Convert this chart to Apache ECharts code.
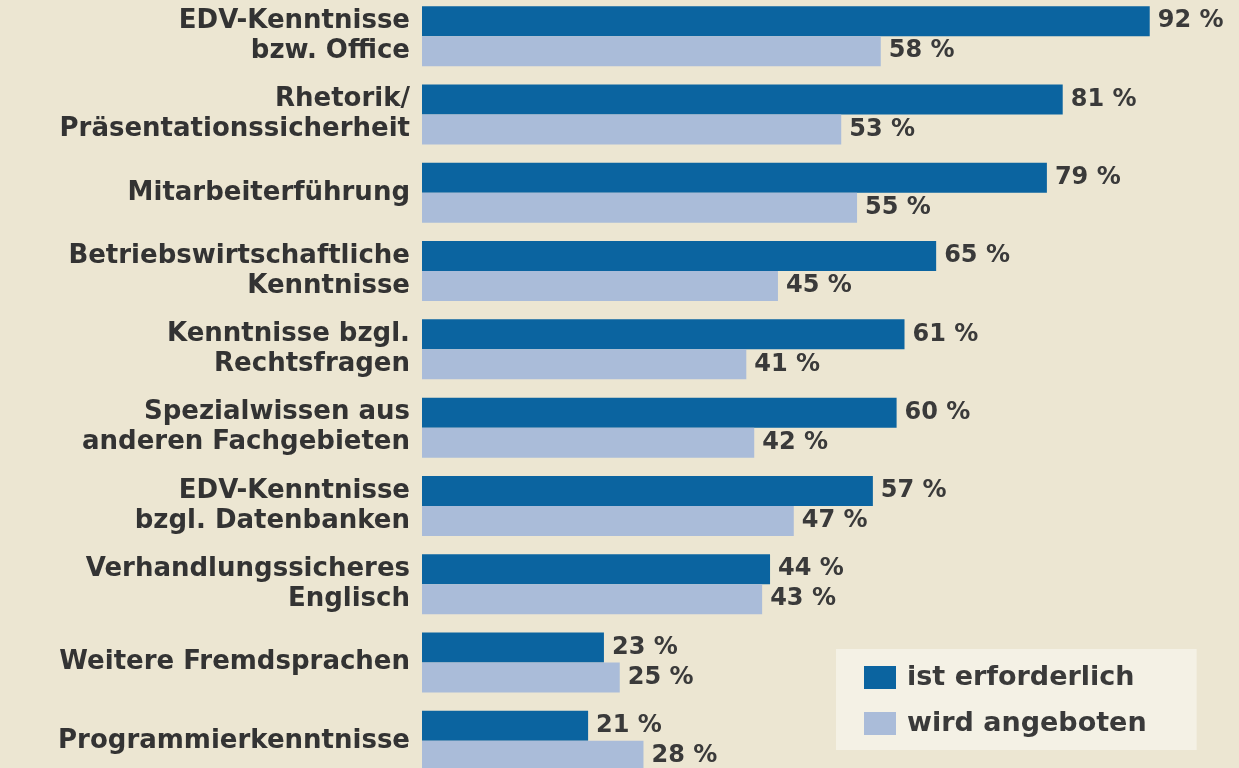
<!DOCTYPE html>
<html>
<head>
<meta charset="utf-8">
<script src="https://cdn.jsdelivr.net/npm/echarts@6/dist/echarts.min.js"></script>
<style>
  html, body { margin: 0; padding: 0; background: #ece6d2; }
  #chart { width: 1239px; height: 768px; }
</style>
</head>
<body>
<div id="chart"></div>
<script>
const categories = [
  "EDV-Kenntnisse\nbzw. Office",
  "Rhetorik/\nPräsentationssicherheit",
  "Mitarbeiterführung",
  "Betriebswirtschaftliche\nKenntnisse",
  "Kenntnisse bzgl.\nRechtsfragen",
  "Spezialwissen aus\nanderen Fachgebieten",
  "EDV-Kenntnisse\nbzgl. Datenbanken",
  "Verhandlungssicheres\nEnglisch",
  "Weitere Fremdsprachen",
  "Programmierkenntnisse"
];
const erforderlich = [92, 81, 79, 65, 61, 60, 57, 44, 23, 21];
const angeboten = [58, 53, 55, 45, 41, 42, 47, 43, 25, 28];

const chart = echarts.init(document.getElementById("chart"));
const font = "'DejaVu Sans', Verdana, sans-serif";
const valueLabel = {
  show: true,
  position: "right",
  distance: 8,
  formatter: "{c} %",
  color: "#3a3a3a",
  fontFamily: font,
  fontWeight: "bold",
  fontSize: 24
};

const option = {
  backgroundColor: "#ece6d2",
  animation: false,
  grid: { left: 422, right: 26, top: -3, bottom: -12, outerBoundsMode: "none", containLabel: false },
  legend: {
    orient: "vertical",
    left: 836,
    top: 649,
    padding: [15, 50, 13, 28],
    backgroundColor: "#f4f1e5",
    itemWidth: 32,
    itemHeight: 23,
    itemGap: 19,
    icon: "rect",
    textStyle: { fontFamily: font, fontWeight: "bold", fontSize: 27, color: "#3a3a3a", padding: [0, 0, 0, 6] },
    data: ["ist erforderlich", "wird angeboten"]
  },
  xAxis: {
    type: "value",
    min: 0,
    max: 100,
    show: false
  },
  yAxis: {
    type: "category",
    inverse: true,
    data: categories,
    axisLine: { show: false },
    axisTick: { show: false },
    splitLine: { show: false },
    axisLabel: {
      margin: 12,
      align: "right",
      color: "#333333",
      fontFamily: font,
      fontWeight: "bold",
      fontSize: 26,
      lineHeight: 30
    }
  },
  series: [
    {
      name: "ist erforderlich",
      type: "bar",
      data: erforderlich,
      barWidth: 30,
      barGap: "0%",
      itemStyle: { color: "#0b64a0" },
      label: valueLabel
    },
    {
      name: "wird angeboten",
      type: "bar",
      data: angeboten,
      barWidth: 30,
      itemStyle: { color: "#aabcd9" },
      label: valueLabel
    }
  ]
};
chart.setOption(option);
</script>
</body>
</html>
